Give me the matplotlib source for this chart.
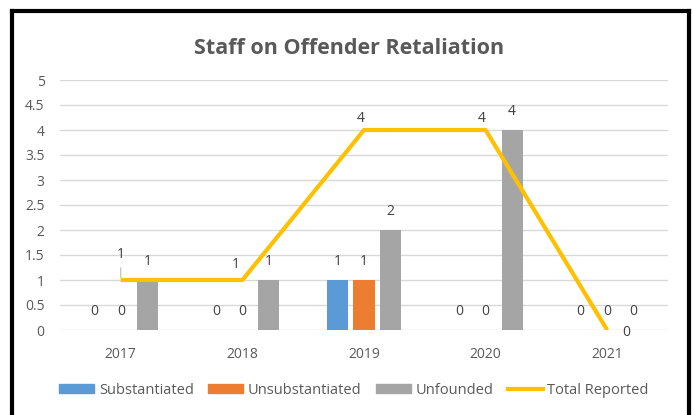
import matplotlib
matplotlib.use("Agg")
import matplotlib.pyplot as plt
from matplotlib.lines import Line2D
from matplotlib.patches import Patch
import numpy as np

# Datos del gráfico
years = ["2017", "2018", "2019", "2020", "2021"]
substantiated = [0, 0, 1, 0, 0]
unsubstantiated = [0, 0, 1, 0, 0]
unfounded = [1, 1, 2, 4, 0]
total_reported = [1, 1, 4, 4, 0]

# Colores estilo Excel
C_SUB = "#5B9BD5"
C_UNSUB = "#ED7D31"
C_UNF = "#A5A5A5"
C_TOT = "#FFC000"
C_TXT = "#595959"
C_LBL = "#404040"

plt.rcParams['font.family'] = ['Open Sans', 'DejaVu Sans']

W, H = 693, 415
fig = plt.figure(figsize=(W / 100, H / 100), dpi=100)
ax = fig.add_axes([60 / W, 1 - 330 / H, 608 / W, 250 / H])

x = np.arange(len(years))
bw = 0.173
off = 0.218

series = [(substantiated, C_SUB, -off), (unsubstantiated, C_UNSUB, 0), (unfounded, C_UNF, off)]
for vals, col, dx in series:
    bars = ax.bar(x + dx, vals, width=bw, color=col, zorder=2)
    for b, v in zip(bars, vals):
        ax.annotate(str(v), (b.get_x() + b.get_width() / 2, v), xytext=(0, 13),
                    textcoords="offset points", ha="center", va="center",
                    fontsize=10, color=C_LBL)

ax.plot(x, total_reported, color=C_TOT, lw=3, zorder=3, solid_capstyle="butt")

# Posición de las etiquetas de la línea (en puntos)
line_offsets = [(0, 18), (-5, 11.5), (-2.5, 8.5), (-2.5, 8.5), (14, -2)]
for i, (v, (ox, oy)) in enumerate(zip(total_reported, line_offsets)):
    ax.annotate(str(v), (x[i], v), xytext=(ox, oy), textcoords="offset points",
                ha="center", va="center", fontsize=10, color=C_LBL, zorder=4)
# línea guía de la primera etiqueta
ax.annotate("", (x[0], total_reported[0]), xytext=(0, 9), textcoords="offset points",
            xycoords="data", arrowprops=dict(arrowstyle="-", color="#A6A6A6", lw=0.6,
                                             shrinkA=0, shrinkB=1.5))

ax.set_xlim(-0.5, len(years) - 0.5)
ax.set_ylim(0, 5)
ax.set_yticks(np.arange(0, 5.01, 0.5))
ax.set_yticklabels(["0", "0.5", "1", "1.5", "2", "2.5", "3", "3.5", "4", "4.5", "5"])
ax.set_xticks(x)
ax.set_xticklabels(years)
ax.tick_params(axis="both", length=0, labelsize=10, labelcolor=C_TXT)
ax.tick_params(axis="y", pad=11)
ax.tick_params(axis="x", pad=12)
ax.yaxis.grid(True, color="#D9D9D9", lw=1, zorder=0)
ax.set_axisbelow(True)
for s in ax.spines.values():
    s.set_visible(False)

fig.text(349 / W, 1 - 48 / H, "Staff on Offender Retaliation", ha="center", va="center",
         fontsize=15.5, fontweight="bold", color=C_TXT)

handles = [Patch(color=C_SUB, label="Substantiated"),
           Patch(color=C_UNSUB, label="Unsubstantiated"),
           Patch(color=C_UNF, label="Unfounded"),
           Line2D([], [], color=C_TOT, lw=3, label="Total Reported")]
leg = ax.legend(handles=handles, loc="center", bbox_to_anchor=(354 / W, 1 - 390 / H),
                bbox_transform=fig.transFigure, ncol=4, frameon=False, fontsize=10.5,
                handlelength=2.4, handleheight=0.55, handletextpad=0.3, columnspacing=1.0)
for t in leg.get_texts():
    t.set_color(C_TXT)

# Marco negro alrededor del gráfico
lw = 3
fig.add_artist(Line2D([12 / W, 12 / W], [0, 1 - 11 / H], color="black", lw=lw,
                      transform=fig.transFigure, solid_capstyle="projecting"))
fig.add_artist(Line2D([12 / W, 689 / W], [1 - 11 / H, 1 - 11 / H], color="black", lw=lw,
                      transform=fig.transFigure, solid_capstyle="projecting"))
fig.add_artist(Line2D([689 / W, 689 / W], [0, 1 - 11 / H], color="black", lw=lw,
                      transform=fig.transFigure, solid_capstyle="projecting"))

fig.savefig("out.png", dpi=100)
